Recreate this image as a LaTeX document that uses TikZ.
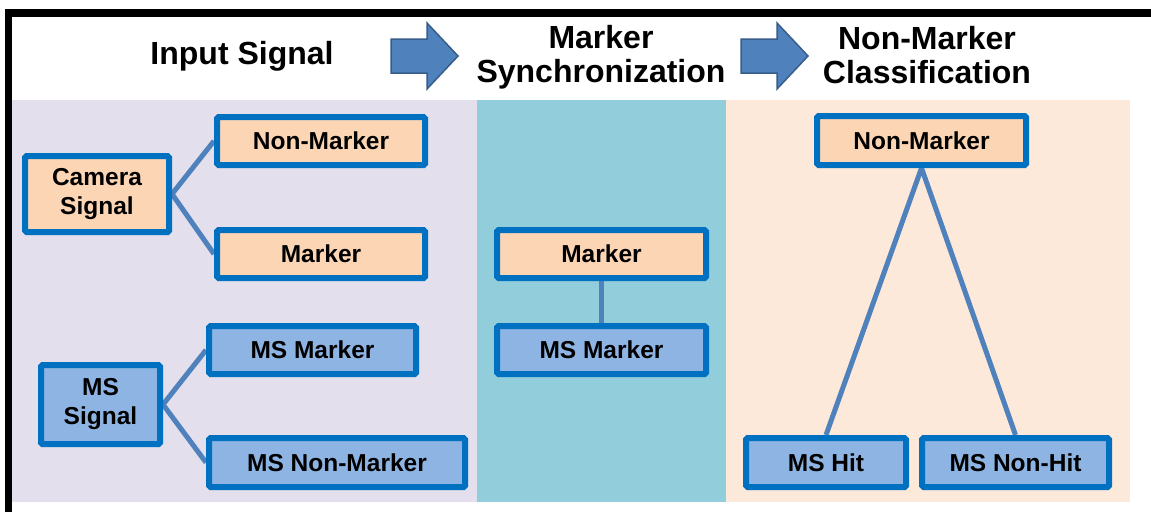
\documentclass[tikz,border=0pt]{standalone}
\usepackage{fontspec}
\setmainfont{Liberation Sans}
\definecolor{panelA}{HTML}{E4DFEC}
\definecolor{panelB}{HTML}{92CDDC}
\definecolor{panelC}{HTML}{FDE9D9}
\definecolor{boxPeach}{HTML}{FCD5B4}
\definecolor{boxBlue}{HTML}{8DB4E2}
\definecolor{boxEdge}{HTML}{0070C0}
\definecolor{linkCol}{HTML}{4F81BD}
\definecolor{arrowEdge}{HTML}{385D8A}
\pgfdeclarelayer{panels}
\pgfdeclarelayer{links}
\pgfsetlayers{panels,links,main}
\tikzset{
  box/.style={draw=boxEdge, line width=6pt, rounded corners=1.5pt, inner sep=0pt,
    font=\fontsize{24.5}{29}\selectfont\bfseries, align=center},
  peach/.style={box, fill=boxPeach},
  bluebox/.style={box, fill=boxBlue},
  link/.style={draw=linkCol, line width=5pt},
  heading/.style={font=\fontsize{32}{34}\selectfont\bfseries, align=center, inner sep=0pt},
  blockarrow/.style={fill=linkCol, draw=arrowEdge, line width=1.5pt, line join=miter}
}
\begin{document}
\begin{tikzpicture}[x=1pt, y=-1pt]
\useasboundingbox (0,0) rectangle (1151,512);

% column panels and frame
\begin{pgfonlayer}{panels}
\fill[white] (0,0) rectangle (1151,512);
\fill[panelA] (12,100) rectangle (477,502);
\fill[panelB] (477,100) rectangle (726,502);
\fill[panelC] (726,100) rectangle (1130,502);
\draw[line width=7.5pt] (8.5,512) -- (8.5,13) -- (1151,13);
\end{pgfonlayer}

% headings
\node[heading] (h1) at (242,56) {Input Signal};
\node[heading] (h2) at (601,57) {Marker\\Synchronization};
\node[heading] (h3) at (927,55) {Non-Marker\\Classification};

% block arrows between headings
\draw[blockarrow] (391,39) -- (427,39) -- (427,23) -- (458,56) -- (427,89) -- (427,73) -- (391,73) -- cycle;
\draw[blockarrow] (741,39) -- (777,39) -- (777,23) -- (808,56) -- (777,89) -- (777,73) -- (741,73) -- cycle;

% input signal column
\node[peach, minimum width=144pt, minimum height=76pt] (cam) at (97,194) {Camera\\Signal};
\node[peach, minimum width=208pt, minimum height=48pt] (nm1) at (321,141) {Non-Marker};
\node[peach, minimum width=208pt, minimum height=48pt] (mk1) at (321,254) {Marker};
\node[bluebox, minimum width=119pt, minimum height=79pt] (mss) at (100.5,404.5) {MS\\Signal};
\node[bluebox, minimum width=207pt, minimum height=48pt] (msm1) at (312.5,350) {MS Marker};
\node[bluebox, minimum width=256pt, minimum height=49pt] (msnm) at (337,462.5) {MS Non-Marker};

% marker synchronization column
\node[peach, minimum width=209pt, minimum height=48pt] (mk2) at (601.5,254) {Marker};
\node[bluebox, minimum width=209pt, minimum height=48pt] (msm2) at (601.5,350) {MS Marker};

% non-marker classification column
\node[peach, minimum width=209pt, minimum height=49pt] (nm2) at (921.5,140.5) {Non-Marker};
\node[bluebox, minimum width=160pt, minimum height=49pt] (hit) at (826,462.5) {MS Hit};
\node[bluebox, minimum width=187pt, minimum height=49pt] (nonhit) at (1015.5,462.5) {MS Non-Hit};

% connectors
\begin{pgfonlayer}{links}
\draw[link] (nm1.west) -- (cam.east) -- (mk1.west);
\draw[link] (msm1.west) -- (mss.east) -- (msnm.west);
\draw[link] (mk2.south) -- (msm2.north);
\draw[link] (hit.north) -- (nm2.south) -- (nonhit.north);
\end{pgfonlayer}
\end{tikzpicture}
\end{document}
